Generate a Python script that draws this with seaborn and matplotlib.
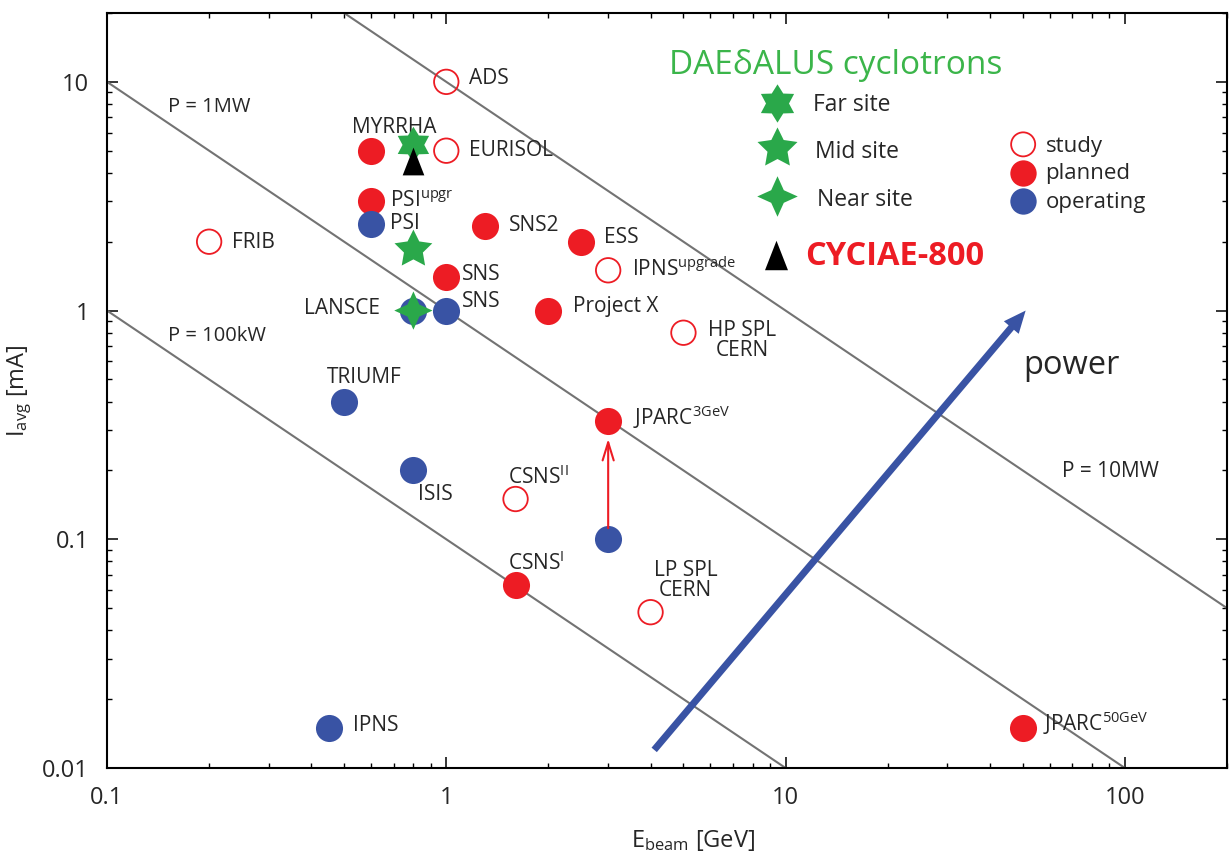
import numpy as np
import pandas as pd
import matplotlib
matplotlib.use("Agg")
import matplotlib.pyplot as plt
from matplotlib.path import Path
from matplotlib.ticker import FixedLocator, NullFormatter
import seaborn as sns

# ---------------------------------------------------------------- data
facility = ["ADS", "EURISOL", "MYRRHA", "PSI_upgr", "PSI", "FRIB", "SNS2", "ESS",
            "IPNS_upgrade", "SNS_planned", "SNS", "LANSCE", "Project X", "HP SPL",
            "TRIUMF", "JPARC_3GeV", "ISIS", "CSNS_II", "JPARC_now", "CSNS_I",
            "LP SPL", "IPNS", "JPARC_50GeV"]
energy_gev = [1.0, 1.0, 0.6, 0.6, 0.6, 0.2, 1.3, 2.5, 3.0, 1.0, 1.0, 0.8, 2.0, 5.0,
              0.5, 3.0, 0.8, 1.6, 3.0, 1.6, 4.0, 0.45, 50.0]
current_ma = [10.0, 5.0, 5.0, 3.0, 2.4, 2.0, 2.35, 2.0, 1.5, 1.4, 1.0, 1.0, 1.0, 0.8,
              0.4, 0.33, 0.2, 0.15, 0.1, 0.063, 0.048, 0.015, 0.015]
status = ["study", "study", "planned", "planned", "operating", "study", "planned",
          "planned", "study", "planned", "operating", "operating", "planned", "study",
          "operating", "planned", "operating", "study", "operating", "planned",
          "study", "operating", "planned"]
label_text = ["ADS", "EURISOL", "MYRRHA", r"PSI$^{\rm upgr}$", "PSI", "FRIB", "SNS2",
              "ESS", r"IPNS$^{\rm upgrade}$", "SNS", "SNS", "LANSCE", "Project X",
              "HP SPL\nCERN", "TRIUMF", r"JPARC$^{\rm 3GeV}$", "ISIS", r"CSNS$^{\rm II}$",
              "", r"CSNS$^{\rm I}$", "LP SPL\nCERN", "IPNS", r"JPARC$^{\rm 50GeV}$"]

# DAEdALUS cyclotron sites and CYCIAE-800
site = ["Far site", "Mid site", "Near site"]
site_energy = [0.8, 0.8, 0.8]
site_current = [5.3, 1.85, 1.0]
cyciae_energy = [0.8]
cyciae_current = [4.5]

# iso-power lines (GeV * mA = MW)
power_mw = [0.1, 1.0, 10.0]
line_energy = [0.1, 200.0]

# upgrade path and "power" direction
upgrade_from = (3.0, 0.1)
upgrade_to = (3.0, 0.275)
power_from = (4.1, 0.012)
power_to = (51.0, 1.0)

# ---------------------------------------------------------------- style
RED = "#ED1C24"
BLUE = "#3953A4"
GREEN = "#2AA84A"
GREEN_TXT = "#3BB54A"
GRAY = "#737373"

sns.set_style("ticks")
plt.rcParams["font.family"] = ["Open Sans", "DejaVu Sans"]
plt.rcParams["mathtext.fontset"] = "custom"
plt.rcParams["mathtext.rm"] = "Open Sans"
plt.rcParams["mathtext.it"] = "Open Sans:italic"
plt.rcParams["mathtext.bf"] = "Open Sans:bold"

df = pd.DataFrame({"facility": facility, "E": energy_gev, "I": current_ma,
                   "status": status, "label": label_text})
sites = pd.DataFrame({"site": site, "E": site_energy, "I": site_current})

fig = plt.figure(figsize=(12.29, 8.66), dpi=100)
ax = fig.add_axes([107 / 1229, 98 / 866, 1120 / 1229, 755 / 866])
ax.set_xscale("log")
ax.set_yscale("log")
ax.set_xlim(0.1, 200)
ax.set_ylim(0.01, 20)

# iso-power lines
lines = pd.DataFrame([(p, e, p / e) for p in power_mw for e in line_energy],
                     columns=["P", "E", "I"])
sns.lineplot(data=lines, x="E", y="I", units="P", estimator=None, color=GRAY,
             lw=1.5, ax=ax, zorder=1, sort=False)

# facilities
sns.scatterplot(data=df[df.status == "planned"], x="E", y="I", color=RED, s=380,
                linewidth=0, ax=ax, zorder=3)
sns.scatterplot(data=df[df.status == "operating"], x="E", y="I", color=BLUE, s=380,
                linewidth=0, ax=ax, zorder=3)
sns.scatterplot(data=df[df.status == "study"], x="E", y="I", color=RED, s=310,
                linewidth=1.3, ax=ax, zorder=3)
study_coll = ax.collections[-1]
study_coll.set_facecolor("none")
study_coll.set_edgecolor(RED)

# custom marker shapes
hexagram = Path.unit_regular_star(6, 0.6)
star5 = Path.unit_regular_star(5, 0.5)
star4 = Path.unit_regular_star(4, 0.44)
tri = Path([(0, 1), (-0.78, -1), (0.78, -1), (0, 1)],
           [Path.MOVETO, Path.LINETO, Path.LINETO, Path.CLOSEPOLY])
site_markers = {"Far site": hexagram, "Mid site": star5, "Near site": star4}
site_sizes = {"Far site": 680, "Mid site": 820, "Near site": 760}

sns.scatterplot(data=sites, x="E", y="I", style="site", markers=site_markers,
                size="site", sizes=site_sizes, color=GREEN, linewidth=0,
                ax=ax, zorder=4, legend=False)
sns.scatterplot(x=cyciae_energy, y=cyciae_current, marker=tri, s=400, color="black",
                linewidth=0, ax=ax, zorder=5)

# labels next to facilities (offsets in pixels: dx, dy, ha, va)
label_layout = {
    "ADS": (23, -2.5, "left", "baseline"),
    "EURISOL": (23, -5.5, "left", "baseline"),
    "MYRRHA": (23, 18, "center", "baseline"),
    "PSI_upgr": (19, -6, "left", "baseline"),
    "PSI": (19, -5, "left", "baseline"),
    "FRIB": (23, -6, "left", "baseline"),
    "SNS2": (24, -5, "left", "baseline"),
    "ESS": (23, -1, "left", "baseline"),
    "IPNS_upgrade": (24, -6, "left", "baseline"),
    "SNS_planned": (16, -3, "left", "baseline"),
    "SNS": (16, 4, "left", "baseline"),
    "LANSCE": (-33, -3, "right", "baseline"),
    "Project X": (25, -1, "left", "baseline"),
    "HP SPL": (59, -7.5, "center", "center"),
    "TRIUMF": (20, 19, "center", "baseline"),
    "JPARC_3GeV": (25, -4, "left", "baseline"),
    "ISIS": (5, -30, "left", "baseline"),
    "CSNS_II": (-8, 15, "left", "baseline"),
    "CSNS_I": (-8, 15, "left", "baseline"),
    "LP SPL": (35, 32, "center", "center"),
    "IPNS": (24, -3, "left", "baseline"),
    "JPARC_50GeV": (20, -3, "left", "baseline"),
}
for _, row in df.iterrows():
    if not row.label:
        continue
    dx, dy, ha, va = label_layout[row.facility]
    ax.annotate(row.label, xy=(row.E, row.I), xytext=(dx * 0.72, dy * 0.72),
                textcoords="offset points", ha=ha, va=va, fontsize=15,
                multialignment="center", linespacing=0.95, zorder=2)

# arrows
ax.annotate("", xy=upgrade_to, xytext=upgrade_from,
            arrowprops=dict(arrowstyle="->,head_length=1.3,head_width=0.4",
                            color=RED, lw=1.5, shrinkA=8, shrinkB=0,
                            mutation_scale=10), zorder=3)
ax.annotate("", xy=power_to, xytext=power_from,
            arrowprops=dict(arrowstyle="simple,head_length=1.6,head_width=1.4,tail_width=0.5",
                            color=BLUE, lw=0, shrinkA=0, shrinkB=0,
                            mutation_scale=10), zorder=2)

# power line captions
ax.text(0.0545, 0.869, "P = 1MW", transform=ax.transAxes, fontsize=14.5, va="baseline")
ax.text(0.0545, 0.566, "P = 100kW", transform=ax.transAxes, fontsize=14.5, va="baseline")
ax.text(0.853, 0.385, "P = 10MW", transform=ax.transAxes, fontsize=15, va="baseline")
ax.text(0.818, 0.522, "power", transform=ax.transAxes, fontsize=23.5, va="baseline")

# DAEdALUS key
ax.text(0.799, 0.919, "DAEδALUS cyclotrons", transform=ax.transAxes, fontsize=24,
        color=GREEN_TXT, ha="right", va="baseline")
key_y = [0.881, 0.821, 0.758]
key_txt_x = [0.630, 0.632, 0.634]
key_txt_y = [0.870, 0.808, 0.744]
for name, ky, tx, ty in zip(site, key_y, key_txt_x, key_txt_y):
    ax.scatter([0.598], [ky], marker=site_markers[name], s=site_sizes[name] * 1.12,
               color=GREEN, linewidth=0, transform=ax.transAxes, clip_on=False)
    ax.text(tx, ty, name, transform=ax.transAxes, fontsize=16.5, va="baseline")
ax.scatter([0.597], [0.679], marker=tri, s=450, color="black", linewidth=0,
           transform=ax.transAxes)
ax.text(0.623, 0.666, "CYCIAE-800", transform=ax.transAxes, fontsize=23.5,
        fontweight="bold", color=RED, va="baseline")

# status key
status_keys = ["study", "planned", "operating"]
status_y = [0.826, 0.788, 0.751]
status_txt_y = [0.816, 0.780, 0.742]
for key, sy, ty in zip(status_keys, status_y, status_txt_y):
    if key == "study":
        ax.scatter([0.818], [sy], s=300, facecolor="none", edgecolor=RED,
                   linewidth=1.3, transform=ax.transAxes)
    else:
        ax.scatter([0.818], [sy], s=360, color=RED if key == "planned" else BLUE,
                   linewidth=0, transform=ax.transAxes)
    ax.text(0.838, ty, key, transform=ax.transAxes, fontsize=16, va="baseline")

# axes, ticks
for sp in ax.spines.values():
    sp.set_visible(True)
    sp.set_linewidth(1.5)
    sp.set_color("black")

ax.xaxis.set_major_locator(FixedLocator([0.1, 1, 10, 100]))
ax.set_xticklabels(["0.1", "1", "10", "100"])
ax.yaxis.set_major_locator(FixedLocator([0.01, 0.1, 1, 10]))
ax.set_yticklabels(["0.01", "0.1", "1", "10"])
minor_x = [m * 10.0 ** k for k in range(-1, 3) for m in range(2, 10)]
minor_y = [m * 10.0 ** k for k in range(-2, 2) for m in range(2, 10)]
ax.xaxis.set_minor_locator(FixedLocator(minor_x))
ax.yaxis.set_minor_locator(FixedLocator(minor_y))
ax.xaxis.set_minor_formatter(NullFormatter())
ax.yaxis.set_minor_formatter(NullFormatter())
ax.tick_params(which="both", direction="in", top=True, right=True, color="black")
ax.tick_params(which="major", length=8, width=1.1, labelsize=17, pad=13)
ax.tick_params(which="minor", length=3.5, width=1.0)

ax.set_xlabel(r"E$_{\rm beam}$ [GeV]", fontsize=17)
ax.set_ylabel(r"I$_{\rm avg}$ [mA]", fontsize=17)
ax.xaxis.set_label_coords(0.523, -0.0795)
ax.yaxis.set_label_coords(-0.065, 0.5)

fig.savefig("out.png", dpi=100)
